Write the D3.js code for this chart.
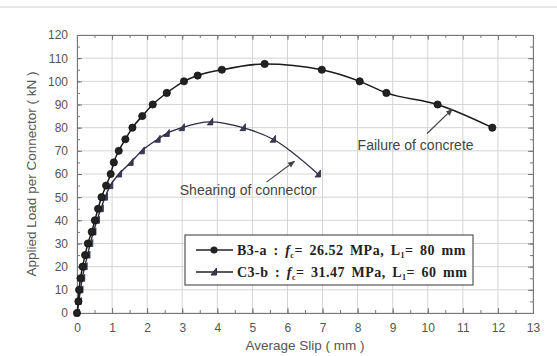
<!DOCTYPE html>
<html><head><meta charset="utf-8">
<script src="https://cdn.jsdelivr.net/npm/d3@7"></script>
<style>body{margin:0;background:#fff}svg{display:block}</style>
</head><body>
<svg id="c" width="557" height="356"></svg>
<script>
// ---- data ----
const b3Slip = [0, 0.04, 0.06, 0.10, 0.16, 0.23, 0.31, 0.42, 0.51, 0.60, 0.70, 0.83, 0.96, 1.05, 1.19, 1.38, 1.58, 1.86, 2.16, 2.56, 3.05, 3.44, 4.13, 5.35, 6.98, 8.06, 8.82, 10.28, 11.84];
const b3Load = [0, 5, 10, 15, 20, 25, 30, 35, 40, 45, 50, 55, 60, 65, 70, 75, 80, 85, 90, 95, 100, 102.5, 105, 107.5, 105, 100, 95, 90, 80];
const c3Slip = [0, 0.05, 0.10, 0.15, 0.22, 0.30, 0.38, 0.47, 0.57, 0.68, 0.80, 0.95, 1.20, 1.53, 1.85, 2.30, 2.56, 2.99, 3.80, 4.73, 5.59, 6.87];
const c3Load = [0, 5, 10, 15, 20, 25, 30, 35, 40, 45, 50, 55, 60, 65, 70, 75, 77.5, 80, 82.5, 80, 75, 60];
const xTicks = d3.range(0, 14, 1);
const yTicks = d3.range(0, 121, 10);
const seriesNames = ["B3-a", "C3-b"];
const legendFc = ["26.52", "31.47"];
const legendL1 = ["80", "60"];
const xTitle = "Average Slip ( mm )";
const yTitle = "Applied Load per Connector ( kN )";
const notes = [
  {text: "Failure of concrete", tx: 8.0, ty: 70.3, ax0: 9.98, ay0: 77.5, ax1: 10.7, ay1: 88.0},
  {text: "Shearing of connector", tx: 2.93, ty: 50.9, ax0: 5.4, ay0: 56.5, ax1: 6.2, ay1: 65.5}
];

// ---- layout ----
const W = 557, H = 356;
const m = {l: 77, r: 24, t: 35, b: 43};
const svg = d3.select("#c");
const x = d3.scaleLinear().domain([0, 13]).range([m.l, W - m.r]);
const y = d3.scaleLinear().domain([0, 120]).range([H - m.b, m.t]);
const gray = "#555";
const sans = "Arial, 'Liberation Sans', sans-serif";

// faint top line
svg.append("line").attr("x1", 0).attr("x2", W).attr("y1", 7).attr("y2", 7)
  .attr("stroke", "#ddd").attr("stroke-width", 1.5);

// grid
const g = svg.append("g");
g.selectAll(".gx").data(xTicks).join("line")
  .attr("x1", d => x(d)).attr("x2", d => x(d)).attr("y1", y(0)).attr("y2", y(120))
  .attr("stroke", "#d4d4d4").attr("stroke-width", 1);
g.selectAll(".gy").data(yTicks).join("line")
  .attr("y1", d => y(d)).attr("y2", d => y(d)).attr("x1", x(0)).attr("x2", x(13))
  .attr("stroke", "#d4d4d4").attr("stroke-width", 1);

// axes (ticks inward)
const minorX = d3.range(0, 13.01, 0.5);
const minorY = d3.range(0, 120.1, 5);
function axisGroup(axis, tr) { return svg.append("g").attr("transform", tr).call(axis); }
axisGroup(d3.axisBottom(x).tickValues(xTicks).tickSizeInner(-5).tickSizeOuter(0).tickPadding(10), `translate(0,${y(0)})`);
axisGroup(d3.axisBottom(x).tickValues(minorX).tickSizeInner(-3).tickSizeOuter(0).tickFormat(""), `translate(0,${y(0)})`);
axisGroup(d3.axisTop(x).tickValues(xTicks).tickSizeInner(-5).tickSizeOuter(0).tickFormat(""), `translate(0,${y(120)})`);
axisGroup(d3.axisTop(x).tickValues(minorX).tickSizeInner(-3).tickSizeOuter(0).tickFormat(""), `translate(0,${y(120)})`);
axisGroup(d3.axisLeft(y).tickValues(yTicks).tickSizeInner(-5).tickSizeOuter(0).tickPadding(9), `translate(${x(0)},0)`);
axisGroup(d3.axisLeft(y).tickValues(minorY).tickSizeInner(-3).tickSizeOuter(0).tickFormat(""), `translate(${x(0)},0)`);
axisGroup(d3.axisRight(y).tickValues(yTicks).tickSizeInner(-5).tickSizeOuter(0).tickFormat(""), `translate(${x(13)},0)`);
axisGroup(d3.axisRight(y).tickValues(minorY).tickSizeInner(-3).tickSizeOuter(0).tickFormat(""), `translate(${x(13)},0)`);
svg.selectAll(".domain").attr("stroke", "#777");
svg.selectAll(".tick line").attr("stroke", "#777");
svg.selectAll(".tick text").attr("fill", gray).attr("font-family", sans).attr("font-size", 12);

// titles
svg.append("text").attr("x", (x(0) + x(13)) / 2).attr("y", 350).attr("text-anchor", "middle")
  .attr("font-family", sans).attr("font-size", 13.5).attr("fill", gray).text(xTitle);
svg.append("text").attr("transform", `translate(36,${(y(0) + y(120)) / 2}) rotate(-90)`).attr("text-anchor", "middle")
  .attr("font-family", sans).attr("font-size", 13.5).attr("fill", gray).text(yTitle);

// series
const b3 = b3Slip.map((s, i) => [s, b3Load[i]]);
const c3 = c3Slip.map((s, i) => [s, c3Load[i]]);
const line = d3.line().x(d => x(d[0])).y(d => y(d[1])).curve(d3.curveMonotoneX);
svg.append("path").attr("d", line(c3)).attr("fill", "none").attr("stroke", "#2b2b45").attr("stroke-width", 1.4);
svg.append("path").attr("d", line(b3)).attr("fill", "none").attr("stroke", "#1a1a1a").attr("stroke-width", 1.5);
// small right-angled triangle marker (vertical side on the right)
const triPath = "M-3,3 L2.5,3 L2.5,-4 Z";
svg.append("g").selectAll("path").data(c3).join("path")
  .attr("transform", d => `translate(${x(d[0])},${y(d[1])})`).attr("d", triPath)
  .attr("fill", "#3a3a55").attr("stroke", "#2a2a40").attr("stroke-width", 0.8);
svg.append("g").selectAll("circle").data(b3).join("circle")
  .attr("cx", d => x(d[0])).attr("cy", d => y(d[1])).attr("r", 3.6)
  .attr("fill", "#222").attr("stroke", "#111").attr("stroke-width", 0.8);

// annotations
const defs = svg.append("defs");
defs.append("marker").attr("id", "ah").attr("viewBox", "0 0 10 10").attr("refX", 9).attr("refY", 5)
  .attr("markerWidth", 6).attr("markerHeight", 6).attr("orient", "auto")
  .append("path").attr("d", "M0,1 L10,5 L0,9 Z").attr("fill", "#444");
notes.forEach(n => {
  svg.append("line").attr("x1", x(n.ax0)).attr("y1", y(n.ay0)).attr("x2", x(n.ax1)).attr("y2", y(n.ay1))
    .attr("stroke", "#444").attr("stroke-width", 1.2).attr("marker-end", "url(#ah)");
  svg.append("text").attr("x", x(n.tx)).attr("y", y(n.ty)).attr("font-family", sans)
    .attr("font-size", 14).attr("fill", "#444").text(n.text);
});

// legend
const lg = svg.append("g");
lg.append("rect").attr("x", 185).attr("y", 235).attr("width", 288).attr("height", 50)
  .attr("fill", "#fff").attr("stroke", "#555").attr("stroke-width", 1.2);
seriesNames.forEach((name, i) => {
  const cy = 250 + i * 22;
  lg.append("line").attr("x1", 196).attr("x2", 233).attr("y1", cy).attr("y2", cy).attr("stroke", "#222").attr("stroke-width", 1.5);
  if (i === 0) lg.append("circle").attr("cx", 214).attr("cy", cy).attr("r", 3.6).attr("fill", "#222");
  else lg.append("path").attr("transform", `translate(214,${cy})`).attr("d", triPath).attr("fill", "#3a3a55").attr("stroke", "#2a2a40");
  const t = lg.append("text").attr("x", 237).attr("y", cy + 5)
    .attr("font-family", "'Liberation Serif', 'Times New Roman', serif").attr("font-weight", "bold")
    .attr("font-size", 14).attr("fill", "#222").attr("letter-spacing", 0.5).attr("word-spacing", 2.5);
  t.append("tspan").text(name + " : ");
  t.append("tspan").attr("font-style", "italic").text("f");
  t.append("tspan").attr("font-size", 8).attr("dy", 3).text("c");
  t.append("tspan").attr("dy", -3).text("= " + legendFc[i] + " MPa, L");
  t.append("tspan").attr("font-size", 8).attr("dy", 3).text("1");
  t.append("tspan").attr("dy", -3).text("= " + legendL1[i] + " mm");
});
</script>
</body></html>
